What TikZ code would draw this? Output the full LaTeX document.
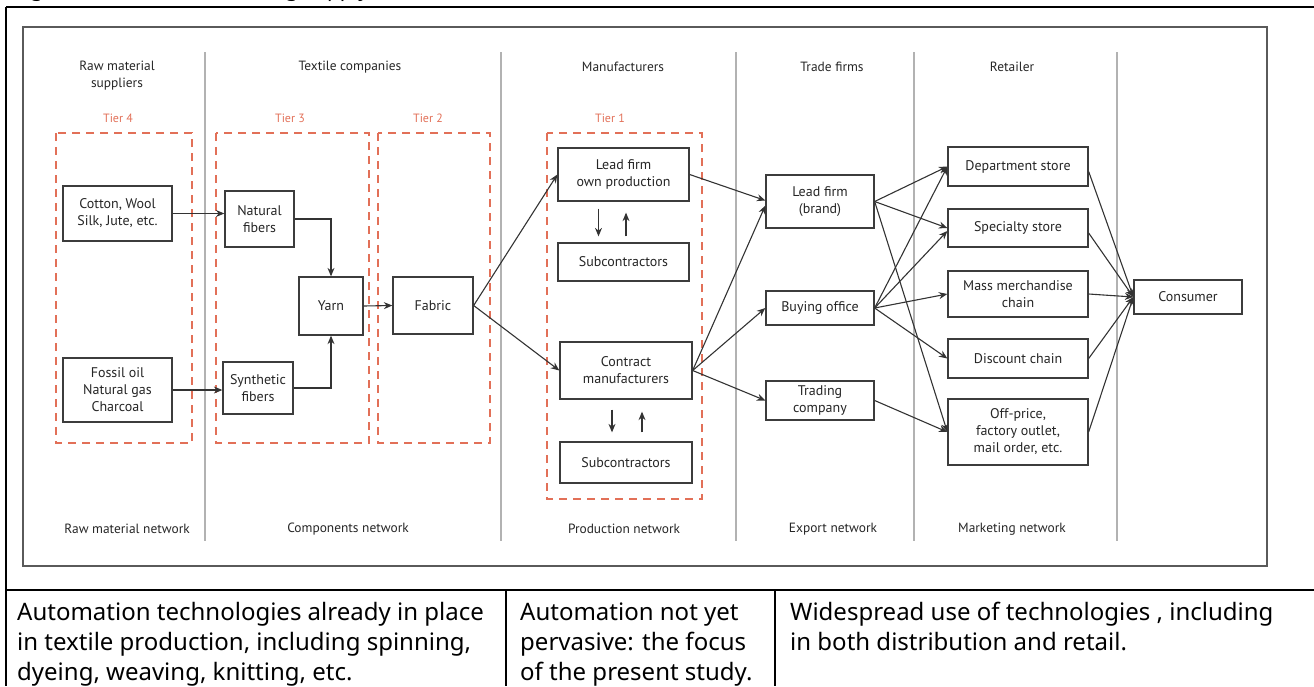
\documentclass[tikz,border=0pt]{standalone}
\usepackage{fontspec}
\setmainfont{PT Sans}
\newfontfamily\noto{Noto Sans}
\usetikzlibrary{arrows.meta,calc}
\definecolor{tierred}{RGB}{226,112,88}
\definecolor{sepgray}{RGB}{178,178,178}
\definecolor{boxgray}{RGB}{60,60,60}
\definecolor{framegray}{RGB}{90,90,90}
\begin{document}
\begin{tikzpicture}[x=1pt,y=-1pt,
  bx/.style={draw=boxgray, line width=1.3pt, fill=white, inner sep=0pt, align=center,
    font=\fontsize{14}{17}\selectfont, text=black!85},
  arr/.style={draw=black!80, line width=1.1pt, -{Stealth[length=8.5pt,width=7pt]}},
  tierbox/.style={draw=tierred, line width=1.6pt, dash pattern=on 8pt off 6pt},
  tierlab/.style={text=tierred, font=\fontsize{12}{14}\selectfont, inner sep=0pt},
  hdr/.style={font=\fontsize{13.4}{17}\selectfont, align=center, text=black!85, inner sep=0pt},
  sep/.style={draw=sepgray, line width=1.1pt},
  bottomtxt/.style={anchor=base west, align=left, inner sep=0pt,
    font=\noto\fontsize{24}{30}\selectfont}
]
\useasboundingbox (0,0) rectangle (1314,686);
\clip (0,0) rectangle (1314,686);

% clipped title (only its descenders fall inside the picture)
\node[anchor=base west, inner sep=0pt, font=\noto\bfseries\fontsize{21}{24}\selectfont] (title) at (14,-4) {Figure 4: Textile and clothing supply chain};

% outer table lines
\draw[line width=2.8pt] (6,7) -- (1314,7);
\draw[line width=2.8pt] (6,7) -- (6,686);
\draw[line width=2.4pt] (6,590) -- (1314,590);
\draw[line width=2pt] (506,590) -- (506,686);
\draw[line width=2pt] (775,590) -- (775,686);

% inner diagram frame
\draw[draw=framegray, line width=1.8pt] (23,27) rectangle (1267,566);

% separators
\foreach \sx in {205,501,736,914,1117} \draw[sep] (\sx,52) -- (\sx,541);

% headers
\node[hdr] (h1) at (117,75.5) {Raw material\\suppliers};
\node[hdr] (h2) at (350,67) {Textile companies};
\node[hdr] (h3) at (623,67) {Manufacturers};
\node[hdr] (h4) at (832,67) {Trade firms};
\node[hdr] (h5) at (1012,67) {Retailer};

\node[hdr] (f1) at (127,529) {Raw material network};
\node[hdr] (f2) at (348,529) {Components network};
\node[hdr] (f3) at (624,529) {Production network};
\node[hdr] (f4) at (833,529) {Export network};
\node[hdr] (f5) at (1012,529) {Marketing network};

% tier boxes
\draw[tierbox] (56,133) rectangle (192,443);
\draw[tierbox] (216,133) rectangle (369,443);
\draw[tierbox] (378,133) rectangle (490,443);
\draw[tierbox] (547,133) rectangle (702,499);
\node[tierlab] (t4) at (118,118) {Tier 4};
\node[tierlab] (t3) at (290,118) {Tier 3};
\node[tierlab] (t2) at (428,118) {Tier 2};
\node[tierlab] (t1) at (610,118) {Tier 1};

% boxes
\node[bx, minimum width=109pt, minimum height=55pt] (cot) at (117.5,213.5) {Cotton, Wool\\Silk, Jute, etc.};
\node[bx, minimum width=109pt, minimum height=64pt] (fos) at (117.5,390) {Fossil oil\\Natural gas\\Charcoal};
\node[bx, minimum width=69pt, minimum height=56pt] (nat) at (259.5,219) {Natural\\fibers};
\node[bx, minimum width=70pt, minimum height=52pt] (syn) at (258,388) {Synthetic\\fibers};
\node[bx, minimum width=64pt, minimum height=58pt] (yarn) at (331,306) {Yarn};
\node[bx, minimum width=80pt, minimum height=57pt] (fab) at (433,305.5) {Fabric};

\node[bx, minimum width=131pt, minimum height=53pt] (lfo) at (623.5,174.5) {Lead firm\\own production};
\node[bx, minimum width=131pt, minimum height=38pt] (sub1) at (623.5,262) {Subcontractors};
\node[bx, minimum width=132pt, minimum height=57pt] (con) at (626,370.5) {Contract\\manufacturers};
\node[bx, minimum width=132pt, minimum height=41pt] (sub2) at (626,462.5) {Subcontractors};

\node[bx, minimum width=108pt, minimum height=53pt] (lfb) at (820,201.5) {Lead firm\\(brand)};
\node[bx, minimum width=108pt, minimum height=34pt] (buy) at (820,308) {Buying office};
\node[bx, minimum width=108pt, minimum height=39pt] (trd) at (820,400.5) {Trading\\company};

\node[bx, minimum width=140pt, minimum height=39pt] (dep) at (1018,166.5) {Department store};
\node[bx, minimum width=140pt, minimum height=38pt] (spe) at (1018,228) {Specialty store};
\node[bx, minimum width=140pt, minimum height=46pt] (mas) at (1018,294) {Mass merchandise\\chain};
\node[bx, minimum width=140pt, minimum height=39pt] (dis) at (1018,358.5) {Discount chain};
\node[bx, minimum width=140pt, minimum height=66pt] (off) at (1018,432) {Off-price,\\factory outlet,\\mail order, etc.};

\node[bx, minimum width=108pt, minimum height=34pt] (cons) at (1188,297) {Consumer};

% connectors
\draw[arr] (cot.east) -- (cot.east -| nat.west);
\draw[arr] (fos.east) -- (fos.east -| syn.west);
\draw[arr] (nat.east) -| (yarn.north);
\draw[arr] (syn.east) -| (yarn.south);
\draw[arr] (yarn.east) -- (fab.west);
\draw[arr] (fab.east) -- (lfo.west);
\draw[arr] (fab.east) -- (con.west);

\draw[arr] ($(lfo.south)+(-25,7)$) -- ($(sub1.north)+(-25,-6)$);
\draw[arr] ($(sub1.north)+(2.5,-6)$) -- ($(lfo.south)+(2.5,11)$);
\draw[arr] ($(con.south)+(-14,10)$) -- ($(sub2.north)+(-14,-9)$);
\draw[arr] ($(sub2.north)+(16,-9)$) -- ($(con.south)+(16,12)$);

\draw[arr] (lfo.east) -- ([yshift=1pt]lfb.west);
\draw[arr] (con.east) -- ([yshift=-4pt]lfb.west);
\draw[arr] (con.east) -- (buy.west);
\draw[arr] (con.east) -- (trd.west);

\draw[arr] (lfb.east) -- (dep.west);
\draw[arr] (lfb.east) -- (spe.west);
\draw[arr] (lfb.east) -- (off.west);
\draw[arr] (buy.east) -- (dep.west);
\draw[arr] (buy.east) -- ([yshift=-3pt]spe.west);
\draw[arr] (buy.east) -- (mas.west);
\draw[arr] (buy.east) -- (dis.west);
\draw[arr] (trd.east) -- (off.west);

\draw[arr] ([yshift=-5pt]dep.east) -- (cons.west);
\draw[arr] ([yshift=-5pt]spe.east) -- (cons.west);
\draw[arr] (mas.east) -- (cons.west);
\draw[arr] (dis.east) -- (cons.west);
\draw[arr] (off.east) -- (cons.west);

% bottom row text (base anchor = baseline of the last line)
\node[bottomtxt] (b1) at (17,680) {Automation technologies already in place\\in textile production, including spinning,\\dyeing, weaving, knitting, etc.};
\node[bottomtxt] (b2) at (520,680) {Automation not yet\\pervasive: the focus\\of the present study.};
\node[bottomtxt] (b3) at (790,650) {Widespread use of technologies , including\\in both distribution and retail.};
\end{tikzpicture}
\end{document}
